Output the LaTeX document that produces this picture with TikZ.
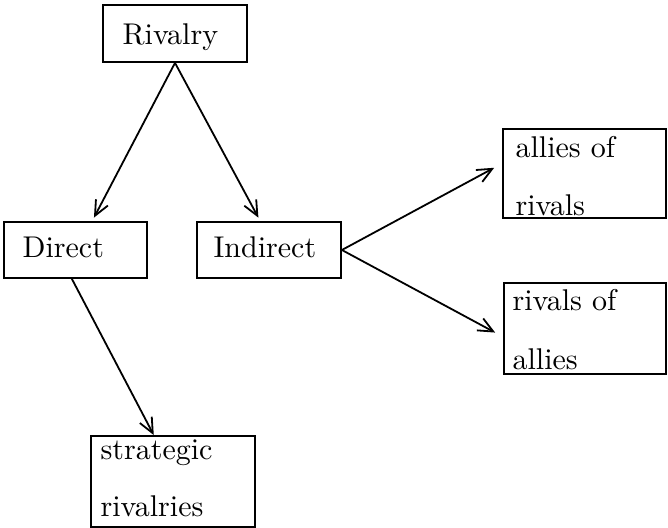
\documentclass[tikz,border=0pt]{standalone}
\usetikzlibrary{arrows.meta,fit,calc}
\begin{document}
\begin{tikzpicture}[x=0.3333pt,y=-0.3333pt,
  box/.style={draw, line width=0.6pt, inner sep=0pt},
  lbl/.style={anchor=base west, inner sep=0pt},
  arr/.style={line width=0.6pt, line join=round, -{Straight Barb[length=5pt,width=4.5pt]}}]
\useasboundingbox (0,0) rectangle (668,528);
% boxes
\node[box, fit={(103,5) (247,62)}] (riv) {};
\node[box, fit={(4,222) (147,278)}] (dir) {};
\node[box, fit={(197,222) (341,278)}] (ind) {};
\node[box, fit={(503,129) (666,218)}] (alr) {};
\node[box, fit={(504,283) (666,374)}] (roa) {};
\node[box, fit={(91,436) (255,527)}] (str) {};
% texts
\node[lbl] (triv) at (122,45) {Rivalry};
\node[lbl] (tdir) at (22,258) {Direct};
\node[lbl] (tind) at (213,258) {Indirect};
\node[lbl] (talr1) at (515,158) {allies of};
\node[lbl] (talr2) at (515,216) {rivals};
\node[lbl] (troa1) at (512,311) {rivals of};
\node[lbl] (troa2) at (512,370) {allies};
\node[lbl] (tstr1) at (100,460) {strategic};
\node[lbl] (tstr2) at (100,517) {rivalries};
% connectors
\draw[arr, shorten >=1.3pt] (riv.south) -- ($(dir.north west)!0.615!(dir.north east)$);
\draw[arr, shorten >=1.3pt] (riv.south) -- ($(ind.north west)!0.44!(ind.north east)$);
\draw[arr] ($(dir.south west)!0.475!(dir.south east)$) -- ($(str.north west)!0.384!(str.north east)$);
\draw[arr, shorten >=3pt] (ind.east) -- ($(alr.north west)!0.39!(alr.south west)$);
\draw[arr, shorten >=3pt] (ind.east) -- ($(roa.north west)!0.59!(roa.south west)$);
\end{tikzpicture}
\end{document}
